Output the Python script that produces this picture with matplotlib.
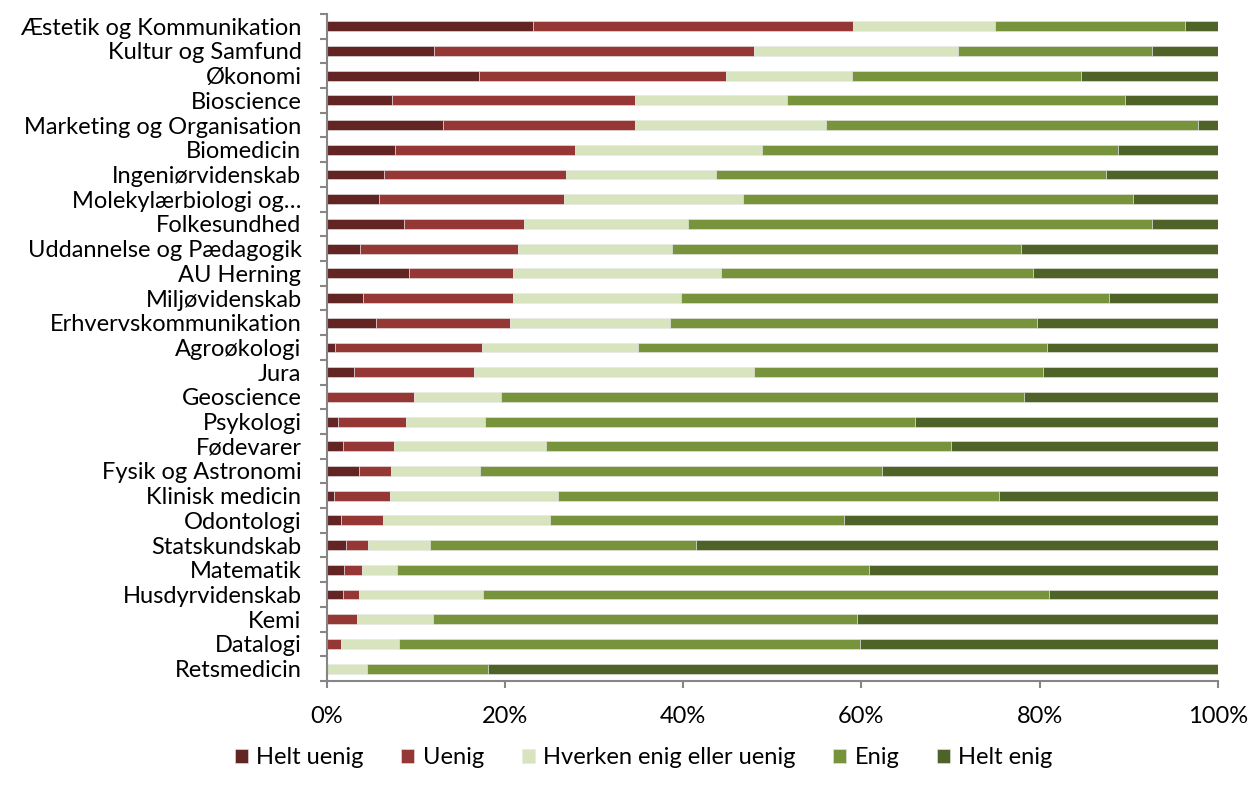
import numpy as np
import matplotlib.pyplot as plt
from matplotlib.ticker import FixedLocator, PercentFormatter

plt.rcParams['font.family'] = ['Lato', 'DejaVu Sans']

uddannelser = ["Æstetik og Kommunikation", "Kultur og Samfund", "Økonomi", "Bioscience",
               "Marketing og Organisation", "Biomedicin", "Ingeniørvidenskab",
               "Molekylærbiologi og…", "Folkesundhed", "Uddannelse og Pædagogik",
               "AU Herning", "Miljøvidenskab", "Erhvervskommunikation", "Agroøkologi",
               "Jura", "Geoscience", "Psykologi", "Fødevarer", "Fysik og Astronomi",
               "Klinisk medicin", "Odontologi", "Statskundskab", "Matematik",
               "Husdyrvidenskab", "Kemi", "Datalogi", "Retsmedicin"]

helt_uenig = [23.2, 12.1, 17.1, 7.3, 13.1, 7.7, 6.4, 5.9, 8.7, 3.8, 9.3, 4.1, 5.5, 0.9,
              3.1, 0.0, 1.3, 1.9, 3.6, 0.8, 1.6, 2.2, 2.0, 1.8, 0.0, 0.0, 0.0]
uenig = [35.9, 35.8, 27.7, 27.3, 21.5, 20.2, 20.5, 20.7, 13.5, 17.7, 11.6, 16.8, 15.1, 16.5,
         13.5, 9.8, 7.6, 5.7, 3.6, 6.3, 4.7, 2.4, 2.0, 1.8, 3.4, 1.6, 0.0]
hverken = [15.9, 22.9, 14.2, 17.0, 21.4, 20.9, 16.8, 20.1, 18.4, 17.2, 23.3, 18.9, 17.9, 17.5,
           31.4, 9.8, 8.9, 17.0, 10.0, 18.9, 18.8, 7.0, 3.9, 14.0, 8.5, 6.5, 4.5]
enig = [21.3, 21.8, 25.6, 38.0, 41.8, 40.0, 43.7, 43.8, 52.0, 39.2, 35.1, 48.0, 41.2, 45.9,
        32.4, 58.6, 48.2, 45.4, 45.1, 49.4, 32.9, 29.9, 53.0, 63.4, 47.6, 51.7, 13.6]
helt_enig = [3.7, 7.4, 15.4, 10.4, 2.2, 11.2, 12.6, 9.5, 7.4, 22.1, 20.7, 12.2, 20.3, 19.2,
             19.6, 21.8, 34.0, 30.0, 37.7, 24.6, 42.0, 58.5, 39.1, 19.0, 40.5, 40.2, 81.9]

svar = ["Helt uenig", "Uenig", "Hverken enig eller uenig", "Enig", "Helt enig"]
farver = ["#632523", "#953735", "#D7E4BD", "#77933C", "#4F6228"]

fig = plt.figure(figsize=(12.5, 7.96), dpi=100)
ax = fig.add_axes([0.2612, 0.1445, 0.7132, 0.838])

y = np.arange(len(uddannelser))
venstre = np.zeros(len(uddannelser))
for navn, vaerdier, farve in zip(svar, [helt_uenig, uenig, hverken, enig, helt_enig], farver):
    v = np.array(vaerdier)
    ax.barh(y, v, left=venstre, height=0.4, color=farve, label=navn,
            edgecolor="#e8e8e8", linewidth=0.4)
    venstre += v

ax.set_xlim(0, 100)
ax.set_ylim(len(uddannelser) - 0.5, -0.5)
ax.set_yticks(y)
ax.set_yticklabels(uddannelser)
ax.yaxis.set_minor_locator(FixedLocator(np.arange(-0.5, len(uddannelser), 1)))
ax.tick_params(axis='y', which='major', length=0, pad=18, labelsize=17)
ax.tick_params(axis='y', which='minor', length=5, width=1.5, color="#868686")
ax.set_xticks(np.arange(0, 101, 20))
ax.xaxis.set_major_formatter(PercentFormatter(decimals=0))
ax.tick_params(axis='x', length=5, width=1.5, color="#868686", pad=13, labelsize=17)

for s in ["top", "right"]:
    ax.spines[s].set_visible(False)
for s in ["left", "bottom"]:
    ax.spines[s].set_color("#868686")
    ax.spines[s].set_linewidth(1.5)

fig.legend(loc="lower center", bbox_to_anchor=(0.515, 0.008), ncol=5, frameon=False,
           fontsize=17, handlelength=0.55, handleheight=0.55, columnspacing=1.6,
           handletextpad=0.35)

fig.savefig("out.png", dpi=100)
